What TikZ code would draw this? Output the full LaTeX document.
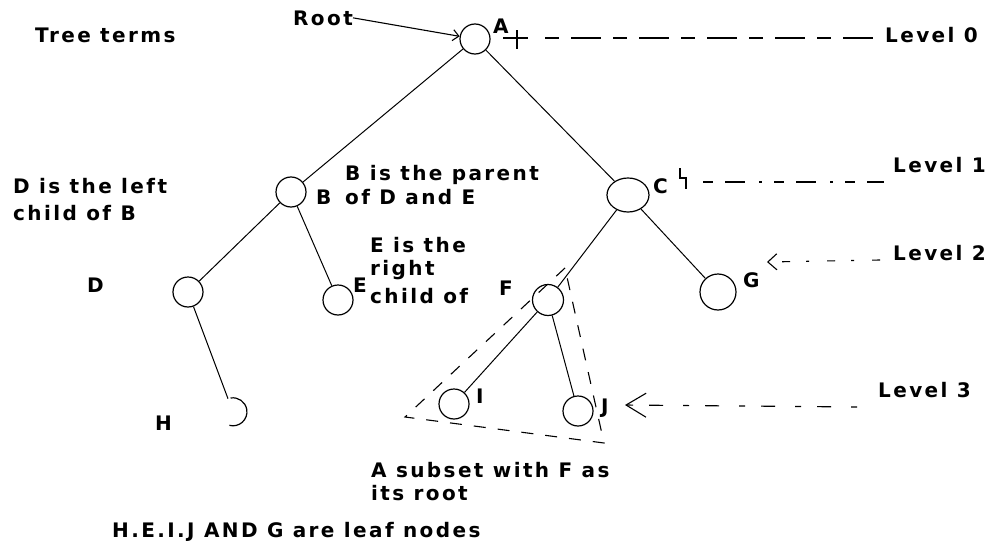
\documentclass[tikz,border=0pt]{standalone}
\usepackage{fontspec}
\newfontfamily\pixfont[LetterSpace=12]{DejaVu Sans Bold}
\usetikzlibrary{shapes.geometric,arrows.meta}
\begin{document}
\begin{tikzpicture}[x=1pt,y=1pt,
  vert/.style={circle,draw,line width=1.2pt,minimum size=30pt,inner sep=0pt},
  vertE/.style={ellipse,draw,line width=1.2pt,minimum width=42pt,minimum height=34pt,inner sep=0pt},
  lbl/.style={font=\pixfont\fontsize{20}{23}\selectfont,anchor=base west,inner sep=0pt},
  edge/.style={line width=1pt},
  guide/.style={line width=1.1pt},
  tri/.style={line width=1.1pt,dash pattern=on 12pt off 12pt}]
\useasboundingbox (0,0) rectangle (991,-546);
% vertices
\node[vert] (A) at (475,-39) {};
\node[vert] (B) at (291,-192) {};
\node[vertE] (C) at (628,-195) {};
\node[vert] (D) at (188,-292) {};
\node[vert] (E) at (338,-300) {};
\node[vert,minimum size=36pt] (G) at (718,-292) {};
\node[vert,minimum size=31pt] (F) at (548,-300) {};
\node[vert] (I) at (454,-404) {};
\node[vert] (J) at (578,-411) {};
\node[circle,minimum size=28pt,inner sep=0pt] (H) at (233,-412) {};
\draw[line width=1.2pt] (H.100) arc[start angle=100,end angle=-105,radius=14pt];
% edges
\draw[edge] (A) -- (B);
\draw[edge] (A) -- (C);
\draw[edge] (B) -- (D);
\draw[edge] (B) -- (E);
\draw[edge] (C) -- (F);
\draw[edge] (C) -- (G);
\draw[edge] (D) -- (H);
\draw[edge] (F) -- (I);
\draw[edge] (F) -- (J);
% labels
\node[lbl] (tTree) at (35,-42) {Tree terms};
\node[lbl] (tRoot) at (293,-25) {Root};
\node[lbl] (tA) at (493,-33) {A};
\node[lbl] (tL0) at (885,-42) {Level 0};
\node[lbl] (tL1) at (893,-172) {Level 1};
\node[lbl] (tL2) at (893,-260) {Level 2};
\node[lbl] (tL3) at (878,-397) {Level 3};
\node[lbl] (tB) at (316,-204) {B};
\node[lbl] (tBp1) at (345,-180) {B is the parent};
\node[lbl] (tBp2) at (345,-204) {of D and E};
\node[lbl] (tDl1) at (13,-193) {D is the left};
\node[lbl] (tDl2) at (13,-220) {child of B};
\node[lbl] (tC) at (653,-193) {C};
\node[lbl] (tD) at (87,-292) {D};
\node[lbl] (tE) at (353,-292) {E};
\node[lbl] (tEr1) at (370,-252) {E is the};
\node[lbl] (tEr2) at (370,-275) {right};
\node[lbl] (tEr3) at (370,-303) {child of};
\node[lbl] (tF) at (499,-295) {F};
\node[lbl] (tG) at (743,-287) {G};
\node[lbl] (tI) at (476,-403) {I};
\node[lbl] (tJ) at (601,-413) {J};
\node[lbl] (tH) at (155,-430) {H};
\node[lbl] (tSub1) at (371,-477) {A subset with F as};
\node[lbl] (tSub2) at (371,-500) {its root};
\node[lbl] (tLeaf) at (112,-537) {H.E.I.J AND G are leaf nodes};
% root arrow
\draw[guide,-{Straight Barb[length=6pt,width=11pt]}] (tRoot.east) -- (A);
% small marks
\draw[guide] (503,-38) -- (528,-38) (517,-30) -- (517,-49);
\draw[guide] (680,-168) -- (680,-178) -- (686,-178) -- (686,-189);
% level guides
\coordinate (l0s) at (545,-38);
\coordinate (l0e) at (884,-38);
\draw[guide,dash pattern=on 14pt off 12pt on 30pt off 12pt] (l0s) -- (l0e);
\coordinate (l1s) at (703,-182);
\coordinate (l1e) at (884,-182);
\draw[guide,dash pattern=on 10pt off 12pt on 20pt off 14pt on 3pt off 12pt] (l1s) -- (l1e);
\coordinate (l2s) at (880,-260);
\coordinate (l2e) at (767,-262);
\draw[guide,dash pattern=on 8pt off 18pt on 3pt off 16pt,-{Straight Barb[length=9pt,width=16pt]}] (l2s) -- (l2e);
\coordinate (l3s) at (857,-407);
\coordinate (l3e) at (625,-405);
\draw[guide,dash pattern=on 6pt off 20pt on 14pt off 16pt,-{Straight Barb[length=20pt,width=24pt]}] (l3s) -- (l3e);
% subtree triangle
\coordinate (tt) at (565,-268);
\coordinate (tl) at (405,-417);
\coordinate (tr) at (604,-443);
\draw[tri] (tt) -- (tl) -- (tr) -- cycle;
\end{tikzpicture}
\end{document}
